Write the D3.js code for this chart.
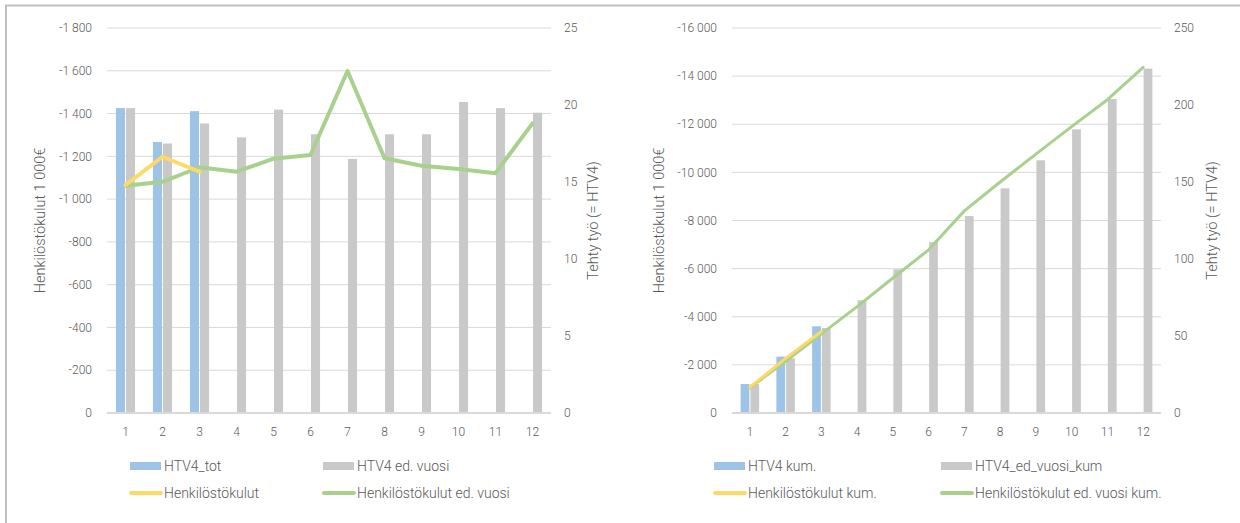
<!DOCTYPE html>
<html>
<head>
<meta charset="utf-8">
<script src="https://cdn.jsdelivr.net/npm/d3@7"></script>
<style>
  html, body { margin: 0; padding: 0; background: #fff; }
  svg { display: block; font-family: Roboto, "Liberation Sans", sans-serif; font-weight: 300; }
  text { fill: #595959; }
</style>
</head>
<body>
<svg id="chart" width="1240" height="523"></svg>
<script>
// kuukaudet
const months = [1, 2, 3, 4, 5, 6, 7, 8, 9, 10, 11, 12];

// vasen kaavio: kuukausittain
const htv4Tot = [19.8, 17.6, 19.6];
const htv4EdVuosi = [19.8, 17.5, 18.8, 17.9, 19.7, 18.1, 16.5, 18.1, 18.1, 20.2, 19.8, 19.5];
const kulut = [-1066, -1198, -1128];
const kulutEdVuosi = [-1063, -1081, -1149, -1128, -1189, -1206, -1599, -1191, -1156, -1141, -1121, -1354];

// oikea kaavio: kumulatiivinen
const htv4Kum = [18.8, 36.6, 56.3];
const htv4EdVuosiKum = [18.8, 35.5, 55.2, 73.2, 93.3, 111.0, 127.9, 145.9, 164.1, 184.2, 203.9, 223.6];
const kulutKum = [-1070, -2270, -3390];
const kulutEdVuosiKum = [-1050, -2150, -3290, -4420, -5610, -6780, -8400, -9600, -10760, -11900, -13020, -14360];

// akselien jaot
const leftTicks1 = [0, -200, -400, -600, -800, -1000, -1200, -1400, -1600, -1800];
const rightTicks1 = [0, 5, 10, 15, 20, 25];
const leftTicks2 = [0, -2000, -4000, -6000, -8000, -10000, -12000, -14000, -16000];
const rightTicks2 = [0, 50, 100, 150, 200, 250];

const leftTitle = "Henkilöstökulut 1 000€";
const rightTitle = "Tehty työ (= HTV4)";
const legend1 = ["HTV4_tot", "HTV4 ed. vuosi", "Henkilöstökulut", "Henkilöstökulut ed. vuosi"];
const legend2 = ["HTV4 kum.", "HTV4_ed_vuosi_kum", "Henkilöstökulut kum.", "Henkilöstökulut ed. vuosi kum."];

const colors = { blue: "#9dc3e6", gray: "#c9c9c9", yellow: "#ffd966", green: "#a9d18e" };

const fi = d3.formatLocale({ decimal: ",", thousands: "\u00a0", grouping: [3], currency: ["", "€"], minus: "-" });
const fmt = fi.format(",d");

const svg = d3.select("#chart");

// reunaviivat
svg.append("line").attr("x1", 5).attr("x2", 1240).attr("y1", 5.5).attr("y2", 5.5)
   .attr("stroke", "#bfbfbf").attr("stroke-width", 2);
svg.append("line").attr("x1", 6).attr("x2", 6).attr("y1", 5).attr("y2", 523)
   .attr("stroke", "#bfbfbf").attr("stroke-width", 2);

function drawChart(cfg) {
    const g = svg.append("g");
    const top = 28, bottom = 413;

    const scX = d3.scaleBand().domain(months).range([cfg.left, cfg.right]).padding(0);
    const scL = d3.scaleLinear().domain([0, cfg.leftMax]).range([bottom, top]);
    const scR = d3.scaleLinear().domain([0, cfg.rightMax]).range([bottom, top]);
    const barW = scX.bandwidth() * 0.245;
    const cx = m => scX(m) + scX.bandwidth() / 2;

    // ruudukko
    g.selectAll(".grid").data(cfg.leftTicks.slice(1)).enter()
        .append("line")
        .attr("x1", cfg.left).attr("x2", cfg.right)
        .attr("y1", d => scL(d)).attr("y2", d => scL(d))
        .attr("stroke", "#d9d9d9").attr("stroke-width", 1);

    // vasen akseli
    g.selectAll(".lt").data(cfg.leftTicks).enter()
        .append("text")
        .attr("x", cfg.left - 15).attr("y", d => scL(d)).attr("dy", "0.35em")
        .attr("text-anchor", "end").style("font-size", "12px")
        .text(d => fmt(d));

    // oikea akseli
    g.selectAll(".rt").data(cfg.rightTicks).enter()
        .append("text")
        .attr("x", cfg.right + 13).attr("y", d => scR(d)).attr("dy", "0.35em")
        .attr("text-anchor", "start").style("font-size", "12px")
        .text(d => d);

    // pylväät
    g.selectAll(".b1").data(cfg.bars1).enter()
        .append("rect")
        .attr("x", (d, i) => cx(months[i]) - barW - 0.5)
        .attr("y", d => scR(d)).attr("width", barW)
        .attr("height", d => bottom - scR(d))
        .attr("fill", colors.blue);
    g.selectAll(".b2").data(cfg.bars2).enter()
        .append("rect")
        .attr("x", (d, i) => cx(months[i]) + 0.5)
        .attr("y", d => scR(d)).attr("width", barW)
        .attr("height", d => bottom - scR(d))
        .attr("fill", colors.gray);

    // x-akseli
    g.append("line").attr("x1", cfg.left).attr("x2", cfg.right)
        .attr("y1", bottom).attr("y2", bottom)
        .attr("stroke", "#d9d9d9").attr("stroke-width", 2);
    g.selectAll(".xt").data(months).enter()
        .append("text")
        .attr("x", d => cx(d)).attr("y", 432).attr("dy", "0.35em")
        .attr("text-anchor", "middle").style("font-size", "12px")
        .text(d => d);

    // viivat
    const line = d3.line().x((d, i) => cx(months[i])).y(d => scL(d));
    g.append("path").datum(cfg.line2).attr("d", line)
        .attr("fill", "none").attr("stroke", colors.green).attr("stroke-width", cfg.lineW)
        .attr("stroke-linejoin", "round").attr("stroke-linecap", "round");
    g.append("path").datum(cfg.line1).attr("d", line)
        .attr("fill", "none").attr("stroke", colors.yellow).attr("stroke-width", cfg.lineW)
        .attr("stroke-linejoin", "round").attr("stroke-linecap", "round");

    // akseleiden otsikot
    g.append("text")
        .attr("transform", `translate(${cfg.leftTitleX},${(top + bottom) / 2}) rotate(-90)`)
        .attr("text-anchor", "middle").attr("dy", "0.35em").style("font-size", "14.5px")
        .text(leftTitle);
    g.append("text")
        .attr("transform", `translate(${cfg.rightTitleX},${(top + bottom) / 2}) rotate(-90)`)
        .attr("text-anchor", "middle").attr("dy", "0.35em").style("font-size", "14.5px")
        .text(rightTitle);

    // selite
    const lg = cfg.legend;
    const rowY = [466, 493];
    const items = [
        { col: 0, row: 0, type: "rect", color: colors.blue },
        { col: 1, row: 0, type: "rect", color: colors.gray },
        { col: 0, row: 1, type: "line", color: colors.yellow },
        { col: 1, row: 1, type: "line", color: colors.green }
    ];
    items.forEach((it, i) => {
        const x0 = lg.cols[it.col];
        const y = rowY[it.row];
        if (it.type === "rect") {
            g.append("rect").attr("x", x0).attr("y", y - 4).attr("width", 31).attr("height", 8)
                .attr("fill", it.color);
        } else {
            g.append("line").attr("x1", x0 + 1).attr("x2", x0 + 31).attr("y1", y).attr("y2", y)
                .attr("stroke", it.color).attr("stroke-width", 4).attr("stroke-linecap", "round");
        }
        g.append("text").attr("x", x0 + 34).attr("y", y).attr("dy", "0.35em")
            .style("font-size", "14px").text(lg.labels[i]);
    });
}

drawChart({
    left: 107, right: 551,
    leftMax: -1800, rightMax: 25,
    leftTicks: leftTicks1, rightTicks: rightTicks1,
    bars1: htv4Tot, bars2: htv4EdVuosi,
    line1: kulut, line2: kulutEdVuosi, lineW: 4,
    leftTitleX: 40, rightTitleX: 593,
    legend: { cols: [130, 323], labels: legend1 }
});

drawChart({
    left: 732, right: 1161,
    leftMax: -16000, rightMax: 250,
    leftTicks: leftTicks2, rightTicks: rightTicks2,
    bars1: htv4Kum, bars2: htv4EdVuosiKum,
    line1: kulutKum, line2: kulutEdVuosiKum, lineW: 3,
    leftTitleX: 659, rightTitleX: 1212,
    legend: { cols: [714, 941], labels: legend2 }
});
</script>
</body>
</html>
